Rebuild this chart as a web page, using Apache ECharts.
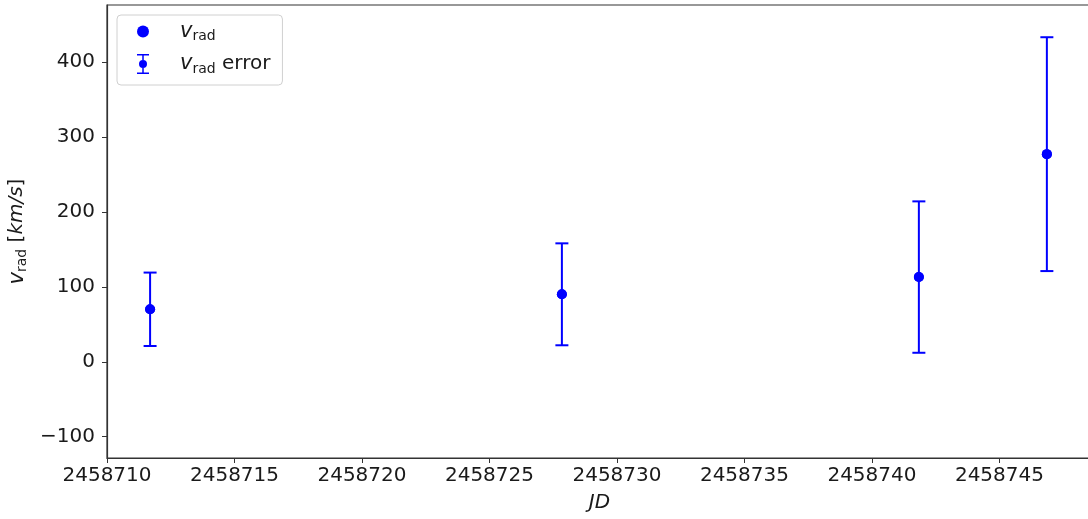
<!DOCTYPE html>
<html>
<head>
<meta charset="utf-8">
<script src="https://cdn.jsdelivr.net/npm/echarts@6/dist/echarts.min.js"></script>
<style>
  html, body { margin: 0; padding: 0; background: #fff; }
  #chart { width: 1088px; height: 519px; }
</style>
</head>
<body>
<div id="chart"></div>
<script>
// Radial velocity measurements (Julian Date, km/s) with their uncertainties
const jd = [2458711.69, 2458727.84, 2458741.84, 2458746.86];
const vrad = [70, 90, 113, 277];
const vradErr = [49, 68, 101, 156];

const xTicks = [2458710, 2458715, 2458720, 2458725, 2458730, 2458735, 2458740, 2458745];
const yTicks = [-100, 0, 100, 200, 300, 400];

const BLUE = '#0000ff';
const INK = '#1a1a1a';
const FONT = 'DejaVu Sans';

const points = jd.map((x, i) => [x, vrad[i]]);
const bars = jd.map((x, i) => [x, vrad[i] - vradErr[i], vrad[i] + vradErr[i]]);

const errIcon = 'path://M0 0H12V1.5H0Z M0 18.5H12V20H0Z M5.25 1.5H6.75V6H5.25Z M5.25 14H6.75V18.5H5.25Z M6 6A4 4 0 1 1 6 14A4 4 0 1 1 6 6Z';

const legendRich = {
  sp: { width: 26 },
  v: { fontFamily: FONT, fontSize: 21, fontStyle: 'italic', color: INK },
  s: { fontFamily: FONT, fontSize: 14, color: INK, padding: [10, 0, 0, 0] },
  t: { fontFamily: FONT, fontSize: 20, color: INK }
};

const chart = echarts.init(document.getElementById('chart'), null, { renderer: 'canvas' });

chart.setOption({
  animation: false,
  backgroundColor: '#fff',
  grid: {
    left: 107, top: 5, width: 985, height: 453,
    outerBoundsMode: 'none',
    containLabel: false,
    show: true, borderColor: '#333', borderWidth: 1.2, backgroundColor: 'transparent'
  },
  legend: {
    orient: 'vertical',
    left: 117, top: 15,
    padding: [6, 12, 9, 20],
    itemGap: 10,
    itemWidth: 12, itemHeight: 20,
    backgroundColor: '#fff',
    borderColor: '#d0d0d0', borderWidth: 1, borderRadius: 4,
    data: [
      { name: 'vrad', icon: 'circle', itemStyle: { color: BLUE, opacity: 1 } },
      { name: 'vrad error', icon: errIcon, itemStyle: { color: BLUE, opacity: 1 } }
    ],
    formatter: name => name === 'vrad' ? '{sp|}{v|v}{s|rad}' : '{sp|}{v|v}{s|rad}{t| error}',
    textStyle: { rich: legendRich }
  },
  xAxis: {
    type: 'value',
    min: 2458710, max: 2458748.63,
    name: 'JD',
    nameLocation: 'middle',
    nameGap: 35,
    nameTextStyle: { fontFamily: FONT, fontSize: 20, fontStyle: 'italic', color: INK, verticalAlign: 'top' },
    splitLine: { show: false },
    axisLine: { show: true, onZero: false, lineStyle: { color: '#333', width: 1.2 } },
    axisTick: { show: true, length: 5, lineStyle: { color: '#333' }, customValues: xTicks },
    axisLabel: {
      customValues: xTicks,
      margin: 8,
      fontFamily: FONT, fontSize: 20, color: INK,
      formatter: v => String(v)
    }
  },
  yAxis: {
    type: 'value',
    min: -128.4, max: 476,
    name: '{v|v}{s|rad}{t| [}{u|km/s}{t|]}',
    nameLocation: 'middle',
    nameGap: 70,
    nameRotate: 90,
    nameTextStyle: {
      rich: {
        v: { fontFamily: FONT, fontSize: 21, fontStyle: 'italic', color: INK },
        s: { fontFamily: FONT, fontSize: 14, color: INK, padding: [10, 0, 0, 0] },
        t: { fontFamily: FONT, fontSize: 20, color: INK },
        u: { fontFamily: FONT, fontSize: 20, fontStyle: 'italic', color: INK }
      }
    },
    splitLine: { show: false },
    axisLine: { show: true, onZero: false, lineStyle: { color: '#333', width: 1.2 } },
    axisTick: { show: true, length: 5, lineStyle: { color: '#333' }, customValues: yTicks },
    axisLabel: {
      customValues: yTicks,
      margin: 12,
      fontFamily: FONT, fontSize: 20, color: INK,
      formatter: v => v < 0 ? '\u2212' + Math.abs(v) : String(v)
    }
  },
  series: [
    {
      name: 'vrad error',
      type: 'custom',
      data: bars,
      itemStyle: { color: BLUE },
      z: 2,
      renderItem: (params, api) => {
        const x = api.value(0);
        const lo = api.coord([x, api.value(1)]);
        const hi = api.coord([x, api.value(2)]);
        const c = api.coord([x, vrad[params.dataIndex]]);
        const hw = 6.5;
        const st = { stroke: BLUE, lineWidth: 2 };
        return {
          type: 'group',
          children: [
            { type: 'line', shape: { x1: lo[0], y1: lo[1], x2: hi[0], y2: hi[1] }, style: st },
            { type: 'line', shape: { x1: lo[0] - hw, y1: lo[1], x2: lo[0] + hw, y2: lo[1] }, style: st },
            { type: 'line', shape: { x1: hi[0] - hw, y1: hi[1], x2: hi[0] + hw, y2: hi[1] }, style: st },
            { type: 'circle', shape: { cx: c[0], cy: c[1], r: 5 }, style: { fill: BLUE } }
          ]
        };
      }
    },
    {
      name: 'vrad',
      type: 'scatter',
      data: points,
      symbol: 'circle',
      symbolSize: 10,
      itemStyle: { color: BLUE, opacity: 1 },
      z: 3
    }
  ]
});
</script>
</body>
</html>
